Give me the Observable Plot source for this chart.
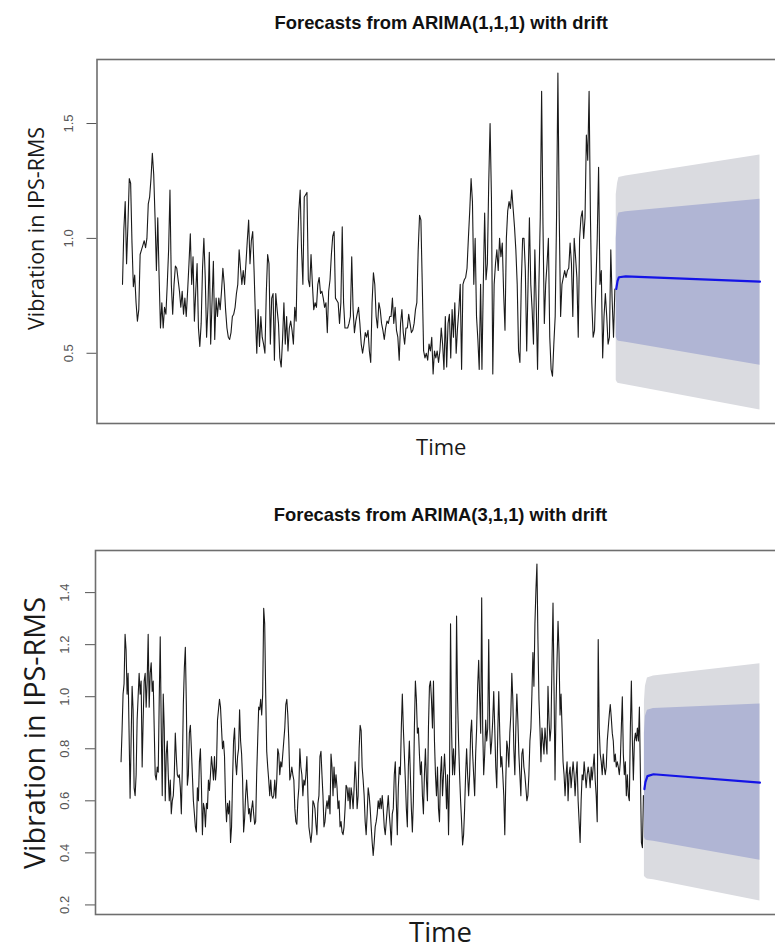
<!DOCTYPE html>
<html><head><meta charset="utf-8">
<script src="https://cdn.jsdelivr.net/npm/d3@7"></script>
<script src="https://cdn.jsdelivr.net/npm/@observablehq/plot@0.6"></script>
<style>
html,body{margin:0;padding:0;background:#fff;overflow:hidden;}
#wrap{position:relative;width:785px;height:949px;}
.panel{position:absolute;left:0;}
</style></head><body>
<div id="wrap"><div id="p1" class="panel" style="top:0"></div><div id="p2" class="panel" style="top:470px"></div></div>
<script>
// ---------- Panel 1: ARIMA(1,1,1) ----------
const topTitle = "Forecasts from ARIMA(1,1,1) with drift";
const topSeries = [
0.80,1.04,1.16,0.89,1.06,1.26,1.24,0.98,0.79,0.84,
0.72,0.64,0.69,0.93,0.95,0.97,0.99,0.96,1.00,1.15,
1.18,1.26,1.37,1.28,1.09,0.86,1.09,0.83,0.61,0.72,
0.61,0.70,0.67,0.80,0.95,1.21,0.80,0.67,0.80,0.88,
0.87,0.82,0.77,0.70,0.77,0.67,0.74,0.66,0.77,0.89,
1.02,0.80,0.92,0.64,0.77,0.89,0.61,0.53,0.63,0.87,
1.00,0.83,0.57,0.70,0.94,0.54,0.72,0.90,0.56,0.74,
0.66,0.74,0.69,0.77,0.87,0.80,0.69,0.61,0.57,0.56,
0.59,0.66,0.67,0.70,0.76,0.80,0.95,0.87,0.80,0.86,
0.80,0.89,0.99,1.08,0.89,0.99,1.03,0.86,0.66,0.50,
0.69,0.53,0.66,0.57,0.54,0.50,0.76,0.93,0.89,0.54,
0.74,0.76,0.47,0.76,0.69,0.63,0.48,0.44,0.56,0.72,
0.54,0.66,0.51,0.61,0.64,0.60,0.54,0.70,0.64,0.95,
1.12,1.21,0.95,0.80,1.18,1.19,1.20,0.82,0.79,0.93,
0.80,0.69,0.72,0.70,0.80,0.83,0.76,0.77,0.74,0.70,
0.72,0.59,0.77,0.82,0.93,1.01,1.03,0.74,0.73,0.72,
0.63,0.72,1.05,0.72,0.61,0.61,0.61,0.63,0.66,0.92,
0.69,0.59,0.64,0.67,0.70,0.63,0.54,0.50,0.54,0.59,
0.57,0.60,0.51,0.46,0.72,0.85,0.80,0.66,0.61,0.72,
0.69,0.63,0.60,0.56,0.61,0.64,0.63,0.66,
0.66,0.74,0.63,0.70,0.60,0.57,0.47,0.63,0.69,0.59,
0.54,0.61,0.61,0.67,0.63,0.59,0.60,0.63,0.69,0.72,
0.95,1.10,1.08,0.80,0.51,0.48,0.50,0.47,0.54,0.51,
0.57,0.41,0.51,0.48,0.51,0.46,0.51,0.61,0.54,0.43,
0.66,0.44,0.63,0.67,0.48,0.69,0.57,0.72,0.50,0.61,
0.69,0.80,0.43,0.80,0.82,0.83,0.87,1.00,1.12,1.26,
1.16,0.80,1.00,0.66,0.56,0.43,0.80,0.43,0.80,1.11,
0.82,0.89,1.24,1.50,1.18,0.41,0.80,0.89,0.95,0.86,
1.00,0.92,0.98,0.76,0.60,1.00,1.12,1.16,1.13,1.21,
1.13,1.05,0.95,0.80,0.51,0.46,0.80,1.00,1.00,0.86,
0.51,0.80,1.09,0.80,0.69,0.54,0.95,0.72,0.43,0.80,
1.09,1.64,1.06,0.63,0.80,0.89,1.00,0.57,0.43,0.40,
0.54,0.66,1.09,1.72,1.09,0.66,0.80,0.83,0.86,0.83,
0.86,0.87,0.98,0.89,0.66,1.00,0.92,0.83,0.57,1.00,
1.09,1.12,1.00,1.09,1.45,1.34,1.64,1.09,0.72,0.57,
0.60,0.80,1.00,1.31,0.80,0.86,0.48,0.66,0.76,0.66,
0.54,0.57,0.95,0.73,0.57,0.78
];
const topH     = [1, 2, 3, 8, 107];
const topMean  = [0.780, 0.815, 0.831, 0.835, 0.812];
const topLo80  = [0.571, 0.556, 0.552, 0.548, 0.448];
const topHi80  = [1.000, 1.090, 1.111, 1.116, 1.170];
const topLo95  = [0.383, 0.371, 0.368, 0.363, 0.253];
const topHi95  = [1.190, 1.240, 1.265, 1.272, 1.363];
const topYTicks = [0.5, 1.0, 1.5];

// ---------- Panel 2: ARIMA(3,1,1) ----------
const botTitle = "Forecasts from ARIMA(3,1,1) with drift";
const botSeries = [
0.75,0.87,1.01,1.05,1.24,1.18,1.01,1.09,0.86,0.61,
0.83,1.04,0.95,0.65,0.62,0.70,0.91,1.00,1.09,1.01,
1.06,0.73,0.91,1.06,1.09,0.96,1.06,1.24,0.96,1.09,
1.13,1.02,1.06,0.88,0.70,0.68,0.73,0.71,0.99,1.23,
0.88,0.62,1.01,0.88,0.60,0.78,0.83,0.70,0.60,0.68,
0.55,0.60,0.62,0.70,0.86,0.77,0.70,0.69,0.70,0.65,
0.55,0.73,0.97,1.11,1.19,0.97,0.66,0.70,0.86,0.89,
0.80,0.70,0.60,0.55,0.50,0.48,0.65,0.60,0.75,0.80,
0.66,0.47,0.59,0.57,0.50,0.59,0.57,0.68,0.64,0.70,
0.77,0.73,0.68,0.77,0.68,0.73,0.91,0.95,0.99,0.96,
0.88,0.80,0.83,0.77,0.60,0.52,0.59,0.55,0.60,0.44,
0.50,0.68,0.83,0.88,0.75,0.70,0.77,0.80,0.95,0.83,
0.78,0.68,0.48,0.53,0.62,0.68,0.61,0.55,0.57,0.52,
0.57,0.60,0.55,0.51,0.52,0.70,0.83,0.96,0.95,0.99,
0.93,1.01,1.34,1.28,1.01,0.79,0.73,0.68,0.62,0.68,
0.62,0.61,0.62,0.68,0.61,0.68,0.80,0.78,0.70,0.75,
0.73,0.78,0.83,0.88,0.97,0.99,0.93,0.83,0.68,0.70,
0.73,0.70,0.68,0.57,0.52,0.51,0.60,0.65,0.80,0.73,
0.70,0.62,0.68,0.66,0.70,0.77,0.62,0.50,0.47,0.44,
0.48,0.60,0.59,0.57,0.51,0.47,0.59,0.62,0.77,0.79,
0.70,0.62,0.50,0.52,0.57,0.60,0.57,0.62,0.55,0.78,
0.73,0.62,0.73,0.65,0.70,0.65,0.57,0.60,0.50,0.52,
0.48,0.47,0.50,0.57,0.66,0.65,0.60,0.65,0.57,0.65,
0.62,0.57,0.65,0.75,0.68,0.57,0.62,0.80,0.89,0.87,
0.73,0.68,0.62,0.52,0.47,0.55,0.65,0.62,0.57,0.50,
0.44,0.39,0.44,0.50,0.52,0.55,0.60,0.57,0.61,0.57,
0.62,0.57,0.50,0.47,0.52,0.57,0.62,0.55,
0.50,0.43,0.55,0.57,0.70,0.75,0.60,0.47,0.65,0.73,
0.70,0.88,1.01,0.88,0.78,0.68,0.57,0.50,0.73,0.83,
0.70,0.57,0.48,0.60,0.88,1.06,0.99,0.86,0.88,0.78,
0.70,0.75,0.62,0.55,0.70,0.80,0.68,0.60,0.88,1.04,
1.06,0.99,0.88,1.06,0.83,0.70,0.62,0.73,0.57,0.52,
0.70,0.77,0.62,0.70,0.78,0.70,0.57,0.70,0.47,0.70,
1.28,0.88,0.70,0.80,0.70,0.78,1.31,0.99,0.83,0.70,
0.60,0.52,0.43,0.47,0.57,0.70,0.80,0.70,0.62,0.70,
0.86,0.91,0.78,0.70,0.62,0.78,0.88,1.04,1.14,0.99,
0.86,1.38,0.88,0.70,0.78,0.91,0.83,0.88,1.22,0.88,
0.78,0.83,0.91,1.02,0.88,0.73,0.65,0.86,1.02,0.86,
0.73,0.77,0.70,0.62,0.47,0.68,0.83,0.80,0.73,0.86,
0.93,1.09,0.99,0.80,0.70,0.88,1.01,0.91,0.78,0.70,
0.62,0.78,0.80,0.73,0.70,0.65,0.60,0.62,0.70,0.83,
0.88,1.01,1.17,1.04,1.28,1.41,1.51,1.22,0.99,0.88,
0.75,0.88,0.83,0.78,0.88,0.83,0.78,1.04,0.91,0.83,
0.88,1.14,1.36,1.04,0.68,0.96,1.14,1.29,1.17,0.93,
1.01,0.88,0.75,0.70,0.62,0.70,0.75,0.60,0.70,0.73,
0.65,0.70,0.75,0.70,0.62,0.70,0.75,0.60,0.52,0.44,
0.60,0.70,0.68,0.75,0.70,0.65,0.70,0.73,0.70,0.65,
0.73,0.68,0.73,0.78,0.68,0.62,0.52,1.22,0.88,0.78,
0.75,0.70,0.78,0.73,0.70,0.73,0.83,0.88,0.93,0.97,
0.92,0.86,0.83,0.75,0.78,0.73,0.75,0.73,0.70,0.75,
0.88,1.00,0.78,0.70,0.75,0.62,0.70,0.62,0.60,0.88,
1.06,0.83,0.68,0.83,0.86,0.83,0.88,0.83,0.96,0.70,
0.44,0.42,0.62
];
const botH     = [1, 2, 4, 10, 116];
const botMean  = [0.645, 0.672, 0.695, 0.702, 0.670];
const botLo80  = [0.460, 0.450, 0.448, 0.445, 0.372];
const botHi80  = [0.860, 0.925, 0.948, 0.955, 0.972];
const botLo95  = [0.310, 0.305, 0.300, 0.297, 0.215];
const botHi95  = [0.980, 1.040, 1.072, 1.080, 1.127];
const botYTicks = [0.2, 0.4, 0.6, 0.8, 1.0, 1.2, 1.4];

const yLabelText = "Vibration in IPS-RMS";
const xLabelText = "Time";

function panel(o) {
  const N = o.series.length;
  const obs = o.series.map((v, i) => ({t: i, v}));
  const fc = o.H.map((h, j) => ({t: N - 1 + h, mean: o.mean[j], lo80: o.lo80[j], hi80: o.hi80[j], lo95: o.lo95[j], hi95: o.hi95[j]}));
  const tmax = N - 1 + o.H[o.H.length - 1];
  const xpad = 0.04 * tmax;
  const ymin = Math.min(d3.min(o.series), d3.min(o.lo95));
  const ymax = Math.max(d3.max(o.series), d3.max(o.hi95));
  const ypad = 0.04 * (ymax - ymin);
  const center = {textAnchor: "middle", lineAnchor: "middle"};
  return Plot.plot({
    width: 785, height: o.height,
    marginLeft: o.marginLeft, marginRight: 0, marginTop: o.marginTop, marginBottom: o.marginBottom,
    style: {background: "#fff", color: "#555", fontFamily: "'Liberation Sans', Arial, sans-serif", overflow: "visible"},
    x: {domain: [-xpad, tmax + xpad], axis: null},
    y: {domain: [ymin - ypad, ymax + ypad], ticks: o.yTicks, tickSize: 10, tickFormat: () => "", label: null},
    marks: [
      Plot.areaY(fc, {x: "t", y1: "lo95", y2: "hi95", fill: "#dadbe0"}),
      Plot.areaY(fc, {x: "t", y1: "lo80", y2: "hi80", fill: "#b0b5d4"}),
      Plot.lineY(obs, {x: "t", y: "v", stroke: "#1a1a1a", strokeWidth: 1.1}),
      Plot.lineY(fc, {x: "t", y: "mean", stroke: "#1414e6", strokeWidth: 2.2}),
      Plot.frame({stroke: "#6e6e6e", strokeWidth: 1.6}),
      Plot.text(o.yTicks, {...center, y: d => d, text: d => d.toFixed(1), frameAnchor: "left", dx: o.tickDx, rotate: -90, fill: "#555", fontSize: 13}),
      Plot.text([yLabelText], {...center, text: d => d, frameAnchor: "left", dx: o.yLabelDx, dy: o.yLabelDy, rotate: -90, fill: "#1a1a1a", fontSize: o.yLabelSize, fontFamily: "'Open Sans', sans-serif"}),
      Plot.text([xLabelText], {...center, text: d => d, frameAnchor: "bottom", dy: o.xLabelDy, fill: "#1a1a1a", fontSize: o.xLabelSize, fontFamily: "'Open Sans', sans-serif"}),
      Plot.text([o.title], {...center, text: d => d, frameAnchor: "top", dy: o.titleDy, fill: "#111", fontSize: 18.4, fontWeight: "bold"})
    ]
  });
}

document.getElementById("p1").appendChild(panel({
  series: topSeries, H: topH, mean: topMean, lo80: topLo80, hi80: topHi80, lo95: topLo95, hi95: topHi95,
  yTicks: topYTicks, title: topTitle, height: 470, marginLeft: 96.5, marginTop: 59, marginBottom: 47,
  tickDx: -28.5, yLabelDx: -59.5, yLabelDy: -13, yLabelSize: 21.5, xLabelSize: 22, xLabelDy: 24.7, titleDy: -36.8
}));
document.getElementById("p2").appendChild(panel({
  series: botSeries, H: botH, mean: botMean, lo80: botLo80, hi80: botHi80, lo95: botLo95, hi95: botHi95,
  yTicks: botYTicks, title: botTitle, height: 479, marginLeft: 95, marginTop: 80, marginBottom: 35,
  tickDx: -31, yLabelDx: -60, yLabelDy: 0.5, yLabelSize: 28.8, xLabelSize: 27.5, xLabelDy: 18.5, titleDy: -35.8
}));
</script>
</body></html>
